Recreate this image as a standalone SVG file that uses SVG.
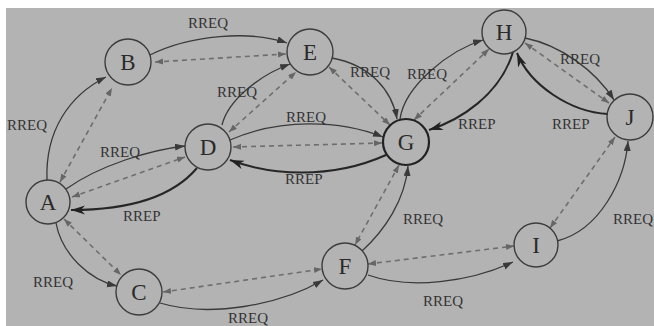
<svg xmlns="http://www.w3.org/2000/svg" width="654" height="326" viewBox="0 0 654 326">
<style>
.node circle{fill:none;stroke:#3c3c3c;stroke-width:1.4}
.node text{font-family:"Liberation Serif","Times New Roman",serif;font-size:23px;fill:#2a2a2a;text-anchor:middle}
.req{fill:none;stroke:#3a3a3a;stroke-width:1.3;marker-end:url(#ah)}
.rep{fill:none;stroke:#262626;stroke-width:2;marker-end:url(#ahb)}
.rev{fill:none;stroke:#6e6e6e;stroke-width:1.6;stroke-dasharray:5 4;marker-start:url(#ahd);marker-end:url(#ahd)}
.lbl{font-family:"Liberation Serif","Times New Roman",serif;font-size:15px;fill:#333}
</style>
<defs>
<marker id="ah" markerUnits="userSpaceOnUse" markerWidth="11" markerHeight="8" refX="10" refY="3.5" orient="auto"><path d="M0,0 L10,3.5 L0,7 z" fill="#3a3a3a"/></marker>
<marker id="ahb" markerUnits="userSpaceOnUse" markerWidth="15" markerHeight="10" refX="14" refY="4.5" orient="auto"><path d="M0,0 L14,4.5 L0,9 L4,4.5 z" fill="#222"/></marker>
<marker id="ahd" markerUnits="userSpaceOnUse" markerWidth="9" markerHeight="7" refX="8" refY="3" orient="auto-start-reverse"><path d="M0,0 L8,3 L0,6 z" fill="#666"/></marker>
</defs>
<rect x="0" y="0" width="654" height="326" fill="#ffffff"/>
<rect x="6" y="8" width="648" height="318" fill="#b3b3b3"/>
<g id="connectors">
<path class="req" d="M47,180 C45,130 70,95 106,77"/>
<path class="rev" d="M60,182 L112,88"/>
<path class="req" d="M66,189 C100,165 150,150 185,146"/>
<path class="rev" d="M72,197 L185,157"/>
<path class="rep" d="M197,168 C170,200 120,210 71,210"/>
<path class="req" d="M56,223 C62,255 90,280 117,286"/>
<path class="rev" d="M64,219 L121,275"/>
<path class="req" d="M150,55 C190,35 250,30 287,43"/>
<path class="rev" d="M155,62 L286,54"/>
<path class="req" d="M222,125 C228,100 260,75 290,64"/>
<path class="rev" d="M229,132 L296,72"/>
<path class="req" d="M230,140 C280,118 340,120 383,137"/>
<path class="rev" d="M233,147 L382,143"/>
<path class="rep" d="M386,155 C330,180 270,175 230,160"/>
<path class="req" d="M332,58 C370,65 392,90 397,119"/>
<path class="rev" d="M329,67 L390,125"/>
<path class="req" d="M400,119 C405,85 450,50 483,40"/>
<path class="rev" d="M414,120 L489,49"/>
<path class="rep" d="M513,52 C500,95 460,120 429,130"/>
<path class="req" d="M525,38 C560,45 595,70 614,100"/>
<path class="rev" d="M525,43 L609,103"/>
<path class="rep" d="M608,114 C570,112 530,85 517,53"/>
<path class="req" d="M362,251 C385,230 405,200 408,166"/>
<path class="rev" d="M399,165 L355,245"/>
<path class="req" d="M160,303 C210,318 280,305 323,280"/>
<path class="rev" d="M163,292 L322,269"/>
<path class="req" d="M368,275 C410,290 470,282 513,262"/>
<path class="rev" d="M368,264 L514,246"/>
<path class="req" d="M557,241 C600,230 625,180 628,141"/>
<path class="rev" d="M550,228 L615,137"/>
</g>
<g id="labels">
<text class="lbl" x="188" y="28">RREQ</text>
<text class="lbl" x="7" y="130">RREQ</text>
<text class="lbl" x="100" y="157">RREQ</text>
<text class="lbl" x="217" y="97">RREQ</text>
<text class="lbl" x="286" y="122">RREQ</text>
<text class="lbl" x="285" y="184">RREP</text>
<text class="lbl" x="123" y="221">RREP</text>
<text class="lbl" x="33" y="287">RREQ</text>
<text class="lbl" x="228" y="323">RREQ</text>
<text class="lbl" x="350" y="77">RREQ</text>
<text class="lbl" x="407" y="79">RREQ</text>
<text class="lbl" x="458" y="129">RREP</text>
<text class="lbl" x="560" y="64">RREQ</text>
<text class="lbl" x="552" y="129">RREP</text>
<text class="lbl" x="403" y="224">RREQ</text>
<text class="lbl" x="423" y="306">RREQ</text>
<text class="lbl" x="613" y="224">RREQ</text>
</g>
<g id="A" class="node"><circle cx="48" cy="202" r="22"/><text x="48" y="210">A</text></g>
<g id="B" class="node"><circle cx="128" cy="62" r="23"/><text x="128" y="70">B</text></g>
<g id="C" class="node"><circle cx="139" cy="292" r="23"/><text x="139" y="300">C</text></g>
<g id="D" class="node"><circle cx="208" cy="147" r="23"/><text x="208" y="155">D</text></g>
<g id="E" class="node"><circle cx="310" cy="52" r="23"/><text x="310" y="60">E</text></g>
<g id="F" class="node"><circle cx="345" cy="266" r="23"/><text x="345" y="274">F</text></g>
<g id="G" class="node"><circle cx="406" cy="142" r="23" style="stroke-width:2.2;stroke:#222"/><text x="406" y="150">G</text></g>
<g id="H" class="node"><circle cx="504" cy="32" r="22"/><text x="504" y="40">H</text></g>
<g id="I" class="node"><circle cx="536" cy="245" r="22"/><text x="536" y="253">I</text></g>
<g id="J" class="node"><circle cx="630" cy="117" r="23"/><text x="630" y="125">J</text></g>
</svg>
